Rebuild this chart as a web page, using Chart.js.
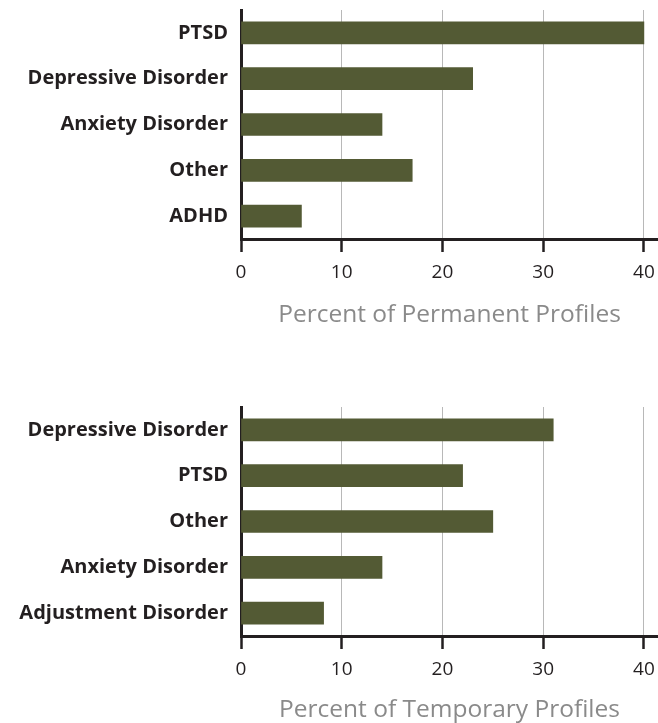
<!DOCTYPE html>
<html lang="en">
<head>
    <meta charset="UTF-8">
    <title>Permanent and Temporary Profiles</title>
    <script src="https://cdn.jsdelivr.net/npm/chart.js"></script>
    <style>
        body {
            margin: 0;
            background: #ffffff;
            overflow: hidden;
        }
        .wrap {
            position: absolute;
            left: 0;
            width: 658px;
        }
        #top { top: 0; height: 330px; }
        #bottom { top: 397px; height: 328px; }
    </style>
</head>
<body>
    <div class="wrap" id="top"><canvas id="permChart"></canvas></div>
    <div class="wrap" id="bottom"><canvas id="tempChart"></canvas></div>

    <script>
        // data
        const permLabels = ['PTSD', 'Depressive Disorder', 'Anxiety Disorder', 'Other', 'ADHD'];
        const permValues = [40, 23, 14, 17, 6];

        const tempLabels = ['Depressive Disorder', 'PTSD', 'Other', 'Anxiety Disorder', 'Adjustment Disorder'];
        const tempValues = [31, 22, 25, 14, 8.2];

        const xTicks = [0, 10, 20, 30, 40];

        const barColor = '#535a34';
        const inkColor = '#231f20';
        const fontFamily = "'Open Sans', 'DejaVu Sans', sans-serif";

        function makeChart(id, labels, values, title, axisHeight) {
            const ctx = document.getElementById(id).getContext('2d');
            return new Chart(ctx, {
                type: 'bar',
                data: {
                    labels: labels,
                    datasets: [{
                        data: values,
                        backgroundColor: barColor,
                        borderWidth: 0,
                        barThickness: 22
                    }]
                },
                options: {
                    indexAxis: 'y',
                    responsive: true,
                    maintainAspectRatio: false,
                    animation: false,
                    layout: { padding: 0 },
                    plugins: {
                        legend: { display: false },
                        tooltip: { enabled: false }
                    },
                    scales: {
                        x: {
                            min: 0,
                            max: 41.4,
                            afterBuildTicks: (scale) => {
                                scale.ticks = xTicks.map(v => ({ value: v }));
                            },
                            afterFit: (scale) => {
                                scale.height = axisHeight;
                                scale.paddingLeft = 0;
                                scale.paddingRight = 0;
                            },
                            grid: {
                                color: '#b8b8b8',
                                lineWidth: 1,
                                drawTicks: true,
                                tickColor: inkColor,
                                tickWidth: 2.5,
                                tickLength: 13
                            },
                            border: { color: inkColor, width: 3 },
                            ticks: {
                                color: inkColor,
                                padding: 9,
                                font: { family: fontFamily, size: 19 }
                            },
                            title: {
                                display: true,
                                text: title,
                                color: '#8a8a8a',
                                padding: { top: 4, bottom: 0 },
                                font: { family: fontFamily, size: 24.5 }
                            }
                        },
                        y: {
                            afterFit: (scale) => {
                                scale.width = 241;
                                scale.paddingTop = 10;
                                scale.paddingBottom = 0;
                            },
                            grid: { display: false, drawTicks: false },
                            border: { color: inkColor, width: 3 },
                            ticks: {
                                color: inkColor,
                                padding: 13,
                                font: { family: fontFamily, size: 20, weight: 'bold' }
                            }
                        }
                    }
                }
            });
        }

        makeChart('permChart', permLabels, permValues, 'Percent of Permanent Profiles', 91);
        makeChart('tempChart', tempLabels, tempValues, 'Percent of Temporary Profiles', 89);
    </script>
</body>
</html>
